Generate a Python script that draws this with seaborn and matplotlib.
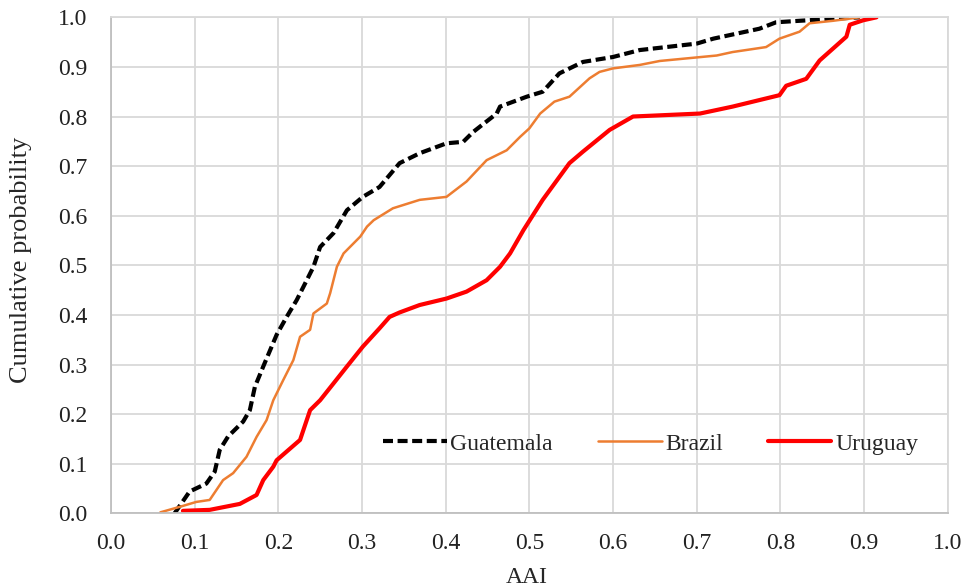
import pandas as pd
import matplotlib
matplotlib.use("Agg")
import matplotlib.pyplot as plt
import seaborn as sns

# values (AAI vs cumulative probability)
guat_x = [0.076, 0.094, 0.114, 0.124, 0.13, 0.14, 0.158, 0.166, 0.172, 0.182, 0.192, 0.198,
          0.21, 0.222, 0.234, 0.242, 0.25, 0.266, 0.282, 0.301, 0.321, 0.345, 0.369, 0.401,
          0.421, 0.433, 0.461, 0.465, 0.497, 0.516, 0.536, 0.564, 0.6, 0.632, 0.7, 0.72,
          0.775, 0.795, 0.823, 0.863, 0.895]
guat_y = [0.0, 0.044, 0.06, 0.084, 0.128, 0.155, 0.185, 0.208, 0.255, 0.296, 0.336, 0.36,
          0.396, 0.43, 0.47, 0.497, 0.537, 0.565, 0.611, 0.638, 0.658, 0.706, 0.726, 0.746,
          0.749, 0.769, 0.806, 0.82, 0.84, 0.85, 0.887, 0.91, 0.92, 0.934, 0.947, 0.957,
          0.977, 0.99, 0.993, 0.997, 1.0]

brazil_x = [0.059, 0.082, 0.102, 0.118, 0.126, 0.134, 0.146, 0.162, 0.174, 0.186, 0.194,
            0.206, 0.218, 0.226, 0.238, 0.242, 0.258, 0.262, 0.27, 0.278, 0.298, 0.306,
            0.314, 0.337, 0.369, 0.401, 0.425, 0.449, 0.473, 0.489, 0.5, 0.513, 0.53, 0.548,
            0.572, 0.584, 0.6, 0.632, 0.656, 0.724, 0.743, 0.783, 0.799, 0.823, 0.835,
            0.863, 0.895]
brazil_y = [0.002, 0.013, 0.023, 0.027, 0.047, 0.067, 0.081, 0.114, 0.154, 0.188, 0.228,
            0.269, 0.309, 0.356, 0.37, 0.403, 0.423, 0.444, 0.497, 0.524, 0.558, 0.578,
            0.591, 0.615, 0.632, 0.638, 0.669, 0.712, 0.732, 0.759, 0.776, 0.806, 0.83, 0.84,
            0.877, 0.89, 0.897, 0.904, 0.912, 0.923, 0.93, 0.94, 0.957, 0.971, 0.988,
            0.993, 1.0]

uru_x = [0.086, 0.118, 0.154, 0.174, 0.182, 0.194, 0.198, 0.226, 0.238, 0.25, 0.266, 0.282,
         0.301, 0.321, 0.333, 0.345, 0.369, 0.401, 0.425, 0.449, 0.465, 0.477, 0.493, 0.516,
         0.548, 0.564, 0.596, 0.624, 0.704, 0.743, 0.799, 0.807, 0.831, 0.847, 0.863, 0.879,
         0.883, 0.899, 0.915]
uru_y = [0.005, 0.007, 0.019, 0.037, 0.067, 0.094, 0.107, 0.148, 0.208, 0.228, 0.262, 0.296,
         0.336, 0.373, 0.396, 0.405, 0.42, 0.433, 0.447, 0.47, 0.497, 0.524, 0.571, 0.632,
         0.706, 0.729, 0.773, 0.8, 0.806, 0.82, 0.843, 0.862, 0.876, 0.913, 0.937, 0.961,
         0.985, 0.994, 1.0]

ticks = [0.0, 0.1, 0.2, 0.3, 0.4, 0.5, 0.6, 0.7, 0.8, 0.9, 1.0]

sns.set_style("white")
plt.rcParams['font.family'] = ['Liberation Serif', 'DejaVu Serif']

fig = plt.figure(figsize=(9.65, 5.87), dpi=100)
ax = fig.add_axes([0.115, 0.1255, 0.867, 0.845])

grid_col = "#d9d9d9"
for t in ticks:
    ax.axvline(t, color=grid_col, lw=1.3, zorder=0)
    ax.axhline(t, color=grid_col, lw=1.3, zorder=0)

sns.lineplot(x=guat_x, y=guat_y, ax=ax, color="black", lw=3.0, sort=False,
             estimator=None, label="Guatemala")
ax.lines[-1].set_dashes((2.4, 1.1))
sns.lineplot(x=brazil_x, y=brazil_y, ax=ax, color="#ED7D31", lw=1.8, sort=False,
             estimator=None, label="Brazil")
sns.lineplot(x=uru_x, y=uru_y, ax=ax, color="#FF0000", lw=3.0, sort=False,
             estimator=None, label="Uruguay")

ax.set_xlim(0, 1.0)
ax.set_ylim(0, 1.0)
ax.set_xticks(ticks)
ax.set_yticks(ticks)
ax.set_xticklabels([f"{t:.1f}" for t in ticks])
ax.set_yticklabels([f"{t:.1f}" for t in ticks])
ax.tick_params(axis="both", length=0, labelsize=17, colors="#222222")
ax.tick_params(axis="y", pad=17)
ax.tick_params(axis="x", pad=14)

for s in ax.spines.values():
    s.set_color(grid_col)
    s.set_linewidth(1.3)
ax.spines["left"].set_color("#bfbfbf")
ax.spines["bottom"].set_color("#bfbfbf")

ax.set_xlabel("AAI", fontsize=17)
ax.xaxis.set_label_coords(0.497, -0.108)
ax.set_ylabel("Cumulative probability", fontsize=19)
ax.yaxis.set_label_coords(-0.094, 0.51)

ax.legend(loc="center", bbox_to_anchor=(0.645, 0.14), ncol=3, frameon=False,
          fontsize=17, handlelength=2.7, handletextpad=0.15, columnspacing=1.9,
          borderaxespad=0)

fig.savefig("out.png", dpi=100)
